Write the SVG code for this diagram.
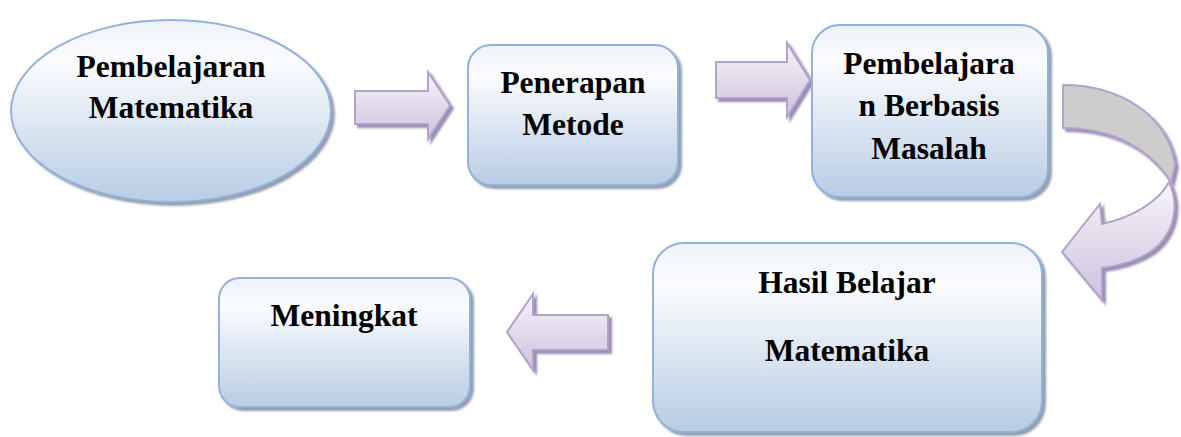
<svg xmlns="http://www.w3.org/2000/svg" width="1181" height="437" viewBox="0 0 1181 437">
<defs>
<linearGradient id="gBox" x1="0" y1="0" x2="0" y2="1">
<stop offset="0" stop-color="#eef3fa"/>
<stop offset="0.22" stop-color="#fbfcfe"/>
<stop offset="1" stop-color="#b8cce4"/>
</linearGradient>
<linearGradient id="gArrow" x1="0" y1="0" x2="0" y2="1">
<stop offset="0" stop-color="#f6f4f9"/>
<stop offset="1" stop-color="#cdc2dd"/>
</linearGradient>
<filter id="shBox" x="-10%" y="-10%" width="125%" height="125%">
<feDropShadow dx="3" dy="3" stdDeviation="1" flood-color="#6f7f95" flood-opacity="0.75"/>
</filter>
<filter id="shArrow" x="-10%" y="-10%" width="125%" height="125%">
<feDropShadow dx="3" dy="3" stdDeviation="0.8" flood-color="#8a78a8" flood-opacity="0.85"/>
</filter>
</defs>
<style>
.node{fill:url(#gBox);stroke:#93b2d9;stroke-width:2;filter:url(#shBox)}
.arrow{fill:url(#gArrow);stroke:#b3a2c9;stroke-width:2;stroke-linejoin:miter;filter:url(#shArrow)}
.back{fill:#cdcdcd;stroke:#b3a2c9;stroke-width:2;filter:url(#shArrow)}
.t{font-family:"Liberation Serif","Times New Roman",serif;font-weight:bold;font-size:31.5px;fill:#000;text-anchor:middle}
</style>
<g id="connectors">
<path class="arrow" d="M355,91 H428 V72 L450,105.5 L428,139 V124 H355 Z"/>
<path class="arrow" d="M716,62 H787 V43 L810,80 L787,117 V98 H716 Z"/>
<path class="back" d="M1063,85 C1120,85 1168,115 1175,165 L1171,182 C1150,150 1115,128 1063,128 Z"/>
<path class="arrow" d="M1169,182 C1180,205 1175,235 1150,252 C1135,262 1118,266 1102,268 L1102,300 L1062,252 L1100,204 L1102,224 C1130,218 1158,203 1169,182 Z"/>
<path class="arrow" d="M608,315 H533 V294 L507,332 L533,370 V350 H608 Z"/>
</g>
<g id="node-pembelajaran-matematika">
<ellipse class="node" cx="171" cy="111" rx="160" ry="91"/>
<text class="t" x="171" y="77">Pembelajaran</text>
<text class="t" x="171" y="118">Matematika</text>
</g>
<g id="node-penerapan-metode">
<rect class="node" x="468" y="45" width="210" height="140" rx="23"/>
<text class="t" x="573" y="93">Penerapan</text>
<text class="t" x="573" y="135">Metode</text>
</g>
<g id="node-pbm">
<rect class="node" x="812" y="25" width="236" height="172" rx="28"/>
<text class="t" x="929" y="74">Pembelajara</text>
<text class="t" x="929" y="116">n Berbasis</text>
<text class="t" x="929" y="159">Masalah</text>
</g>
<g id="node-hasil-belajar">
<rect class="node" x="653" y="243" width="389" height="189" rx="31"/>
<text class="t" x="847" y="293">Hasil Belajar</text>
<text class="t" x="847" y="361">Matematika</text>
</g>
<g id="node-meningkat">
<rect class="node" x="219" y="278" width="251" height="129" rx="21"/>
<text class="t" x="344" y="326">Meningkat</text>
</g>
</svg>
